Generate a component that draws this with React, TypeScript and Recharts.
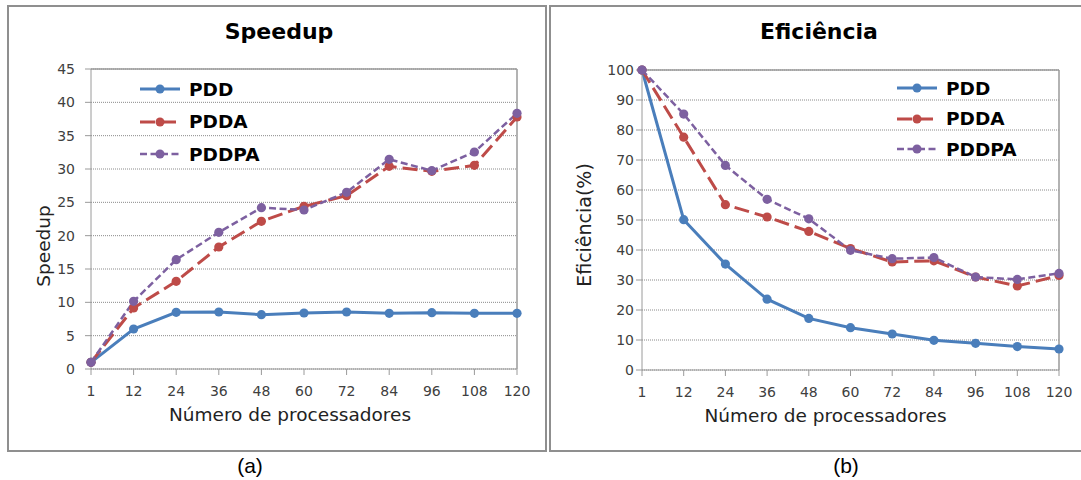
import React from "react";
import {
  LineChart,
  Line,
  XAxis,
  YAxis,
  CartesianGrid,
  ReferenceLine,
  Legend,
} from "recharts";

// categorias do eixo x (número de processadores)
const procs = ["1", "12", "24", "36", "48", "60", "72", "84", "96", "108", "120"];

// Speedup
const speedupPDD = [1, 6.0, 8.5, 8.55, 8.15, 8.4, 8.55, 8.35, 8.45, 8.35, 8.35];
const speedupPDDA = [1, 9.15, 13.15, 18.3, 22.15, 24.4, 26.0, 30.4, 29.65, 30.55, 37.8];
const speedupPDDPA = [1, 10.15, 16.4, 20.5, 24.2, 23.85, 26.5, 31.45, 29.75, 32.55, 38.35];

// Eficiência (%)
const efPDD = [100, 50.1, 35.3, 23.6, 17.2, 14.1, 12.0, 9.9, 8.9, 7.8, 7.0];
const efPDDA = [100, 77.6, 55.1, 51.0, 46.2, 40.5, 36.0, 36.4, 31.0, 28.0, 31.5];
const efPDDPA = [100, 85.3, 68.2, 56.9, 50.4, 39.9, 37.1, 37.5, 31.0, 30.2, 32.2];

const speedupTicks = [0, 5, 10, 15, 20, 25, 30, 35, 40, 45];
const efTicks = [0, 10, 20, 30, 40, 50, 60, 70, 80, 90, 100];

const series = [
  { key: "PDD", color: "#4A7EBB", dash: undefined as string | undefined, width: 3 },
  { key: "PDDA", color: "#BE4B48", dash: "15 6", width: 3 },
  { key: "PDDPA", color: "#7D60A0", dash: "7 3.5", width: 2.5 },
];

const buildRows = (a: number[], b: number[], c: number[]) =>
  procs.map((p, i) => ({ procs: p, PDD: a[i], PDDA: b[i], PDDPA: c[i] }));

const speedupRows = buildRows(speedupPDD, speedupPDDA, speedupPDDPA);
const efRows = buildRows(efPDD, efPDDA, efPDDPA);

const AXIS = "#9a9a9a";
const FONT = "'DejaVu Sans', Verdana, sans-serif";

function LegendBox({ rowH }: { rowH: number }) {
  return (
    <div style={{ fontFamily: FONT }}>
      {series.map((s) => (
        <div
          key={s.key}
          style={{ display: "flex", alignItems: "center", height: rowH }}
        >
          <svg width={40} height={14}>
            <line
              x1={0}
              y1={7}
              x2={40}
              y2={7}
              stroke={s.color}
              strokeWidth={s.width}
              strokeDasharray={s.dash}
            />
            <circle cx={20} cy={7} r={4.5} fill={s.color} />
          </svg>
          <span
            style={{
              marginLeft: 9,
              fontWeight: "bold",
              fontSize: 18.5,
              color: "#000",
            }}
          >
            {s.key}
          </span>
        </div>
      ))}
    </div>
  );
}

type PanelProps = {
  left: number;
  width: number;
  frameRight: number;
  title: string;
  titleX: number;
  yTitle: string;
  yTitleX: number;
  yTitleY: number;
  yTitleSize: number;
  rows: typeof speedupRows;
  ticks: number[];
  yMax: number;
  margin: { top: number; right: number; left: number; bottom: number };
  yWidth: number;
  yTickMargin: number;
  xTitleDx: number;
  legendLeft: number;
  legendRowH: number;
};

function Panel(p: PanelProps) {
  return (
    <div
      style={{
        position: "absolute",
        left: p.left,
        top: 5,
        width: p.width,
        height: 447,
        fontFamily: FONT,
      }}
    >
      <LineChart width={p.width} height={447} data={p.rows} margin={p.margin}>
        <CartesianGrid
          vertical={false}
          stroke="#8a8a8a"
          strokeDasharray="1 1"
        />
        <XAxis
          dataKey="procs"
          interval={0}
          height={56}
          tickSize={6}
          tickMargin={11}
          axisLine={{ stroke: AXIS }}
          tickLine={{ stroke: AXIS }}
          tick={{ fill: "#404040", fontSize: 14 }}
          label={{
            value: "Número de processadores",
            position: "insideBottom",
            offset: 4,
            dx: p.xTitleDx,
            fill: "#222",
            fontSize: 18.5,
          }}
        />
        <YAxis
          type="number"
          domain={[0, p.yMax]}
          ticks={p.ticks}
          interval={0}
          width={p.yWidth}
          tickSize={6}
          tickMargin={p.yTickMargin}
          axisLine={{ stroke: AXIS }}
          tickLine={{ stroke: AXIS }}
          tick={{ fill: "#404040", fontSize: 14 }}
        />
        <ReferenceLine y={p.yMax} stroke={AXIS} strokeWidth={1.5} />
        <ReferenceLine x="120" stroke={AXIS} strokeWidth={1.5} />
        <Legend
          layout="vertical"
          align="center"
          verticalAlign="middle"
          wrapperStyle={{ left: p.legendLeft, top: 68, width: 160 }}
          content={() => <LegendBox rowH={p.legendRowH} />}
        />
        {series.map((s) => (
          <Line
            key={s.key}
            type="linear"
            dataKey={s.key}
            name={s.key}
            stroke={s.color}
            strokeWidth={s.width}
            strokeDasharray={s.dash}
            dot={{ r: 4.6, fill: s.color, stroke: "none", strokeDasharray: "none" }}
            activeDot={false}
            isAnimationActive={false}
          />
        ))}
      </LineChart>

      {/* título do gráfico */}
      <div
        style={{
          position: "absolute",
          left: p.titleX,
          top: 16,
          transform: "translateX(-50%)",
          fontSize: 22,
          lineHeight: "22px",
          fontWeight: "bold",
          whiteSpace: "nowrap",
          color: "#000",
        }}
      >
        {p.title}
      </div>

      {/* título do eixo y */}
      <div
        style={{
          position: "absolute",
          left: p.yTitleX,
          top: p.yTitleY,
          transform: "translate(-50%, -50%) rotate(-90deg)",
          fontSize: p.yTitleSize,
          lineHeight: 1,
          whiteSpace: "nowrap",
          color: "#222",
        }}
      >
        {p.yTitle}
      </div>

      {/* moldura */}
      <div
        style={{
          position: "absolute",
          left: 0,
          top: 0,
          bottom: 0,
          right: p.frameRight,
          border: "2px solid #8f8f8f",
          boxSizing: "border-box",
          pointerEvents: "none",
        }}
      />
    </div>
  );
}

const captionStyle: React.CSSProperties = {
  position: "absolute",
  top: 455,
  transform: "translateX(-50%)",
  fontFamily: "'Liberation Sans', Arial, sans-serif",
  fontSize: 21,
  lineHeight: "21px",
  color: "#000",
};

export default function App() {
  return (
    <div
      style={{
        position: "absolute",
        left: 0,
        top: 0,
        width: 1081,
        height: 480,
        background: "#fff",
        overflow: "hidden",
      }}
    >
      <Panel
        left={7}
        width={540}
        frameRight={0}
        title="Speedup"
        titleX={272}
        yTitle="Speedup"
        yTitleX={37}
        yTitleY={241}
        yTitleSize={18.5}
        rows={speedupRows}
        ticks={speedupTicks}
        yMax={45}
        margin={{ top: 64, right: 30, left: 34, bottom: 27 }}
        yWidth={50}
        yTickMargin={10}
        xTitleDx={-14}
        legendLeft={133}
        legendRowH={32.5}
      />
      <Panel
        left={549}
        width={533}
        frameRight={-12}
        title="Eficiência"
        titleX={270}
        yTitle="Eficiência(%)"
        yTitleX={35}
        yTitleY={220}
        yTitleSize={19}
        rows={efRows}
        ticks={efTicks}
        yMax={100}
        margin={{ top: 65, right: 23, left: 33, bottom: 26 }}
        yWidth={60}
        yTickMargin={2}
        xTitleDx={-25}
        legendLeft={348}
        legendRowH={30.5}
      />
      <div style={{ ...captionStyle, left: 250 }}>(a)</div>
      <div style={{ ...captionStyle, left: 846 }}>(b)</div>
    </div>
  );
}
